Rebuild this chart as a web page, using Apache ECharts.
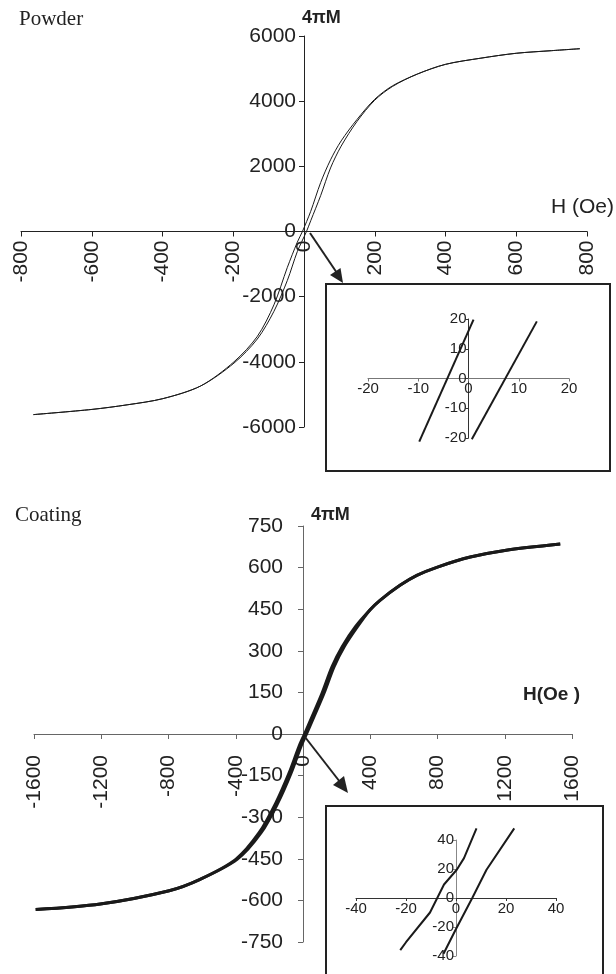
<!DOCTYPE html>
<html>
<head>
<meta charset="utf-8">
<title>Powder / Coating 4πM vs H</title>
<script src="https://cdn.jsdelivr.net/npm/echarts@6.0.0/dist/echarts.min.js"></script>
<style>
  html, body { margin: 0; padding: 0; background: #fff; }
  #chart { width: 616px; height: 974px; }
</style>
</head>
<body>
<div id="chart"></div>
<script>
// ---- tick values ----
var powderHTicks = [-800, -600, -400, -200, 0, 200, 400, 600, 800];
var powderMTicks = [-6000, -4000, -2000, 0, 2000, 4000, 6000];
var coatHTicks = [-1600, -1200, -800, -400, 0, 400, 800, 1200, 1600];
var coatMTicks = [-750, -600, -450, -300, -150, 0, 150, 300, 450, 600, 750];
var powderInsetTicks = [-20, -10, 0, 10, 20];
var coatInsetTicks = [-40, -20, 0, 20, 40];

// ---- powder loop (descending / ascending branch) ----
var powderDescH = [780, 700, 600, 500, 400, 320, 250, 200, 150, 105, 75, 47, 19, -4.5, -19, -47, -85, -132, -198, -292, -399, -500, -599, -765];
var powderDescM = [5610, 5550, 5470, 5320, 5130, 4830, 4470, 4060, 3440, 2780, 2200, 1500, 620, 0, -330, -1100, -2250, -3220, -4000, -4740, -5130, -5320, -5460, -5620];
var powderAscH = [-765, -599, -500, -399, -292, -198, -132, -85, -47, -19, 7, 19, 47, 75, 105, 150, 200, 250, 320, 400, 500, 600, 700, 780];
var powderAscM = [-5620, -5460, -5320, -5130, -4740, -4040, -3300, -2450, -1500, -620, 0, 330, 1100, 1950, 2620, 3380, 4030, 4450, 4830, 5130, 5320, 5470, 5550, 5610];

// ---- coating loop ----
var coatDescH = [1530, 1200, 995, 800, 677, 577, 458, 398, 312, 233, 173, 113, 54, 9, -24, -83, -162, -261, -400, -612, -796, -1206, -1590];
var coatDescM = [685, 662, 638, 602, 572, 536, 482, 447, 387, 315, 243, 147, 63, 0, -45, -141, -249, -356, -452, -524, -565, -613, -633];
var coatAscH = [-1590, -1206, -796, -612, -392, -249, -150, -71, -12, 21, 66, 125, 185, 245, 324, 398, 458, 577, 677, 800, 995, 1200, 1530];
var coatAscM = [-633, -613, -565, -524, -452, -356, -249, -141, -45, 0, 63, 147, 243, 315, 387, 447, 482, 536, 572, 602, 638, 662, 685];

// ---- insets (zoom around origin) ----
var powderInsetDescH = [-9.8, 1];
var powderInsetDescM = [-21.2, 19.8];
var powderInsetAscH = [0.66, 13.6];
var powderInsetAscM = [-20.4, 19.2];
var coatInsetDescH = [-22.3, -20, -10.4, -4.8, 0.3, 3.2, 8.2];
var coatInsetDescM = [-36, -30.5, -10, 9.3, 19.5, 27.5, 48];
var coatInsetAscH = [-5, 0, 6.5, 12.2, 23.3];
var coatInsetAscM = [-38.4, -21.4, 0, 19.5, 48];

var SANS = '"Liberation Sans", Arial, sans-serif';
var SERIF = '"Liberation Serif", "Times New Roman", serif';

// grid boxes: [left, top, width, height]; every range is symmetric, so the
// zero lines sit in the middle and the axes are shifted there with offset
var grids = [
  [21, 36, 566, 391],
  [34, 526, 538, 416],
  [368, 319, 201, 119],
  [356, 840, 200, 116]
];

function pairs(xs, ys) {
  var out = [];
  for (var i = 0; i < xs.length; i++) out.push([xs[i], ys[i]]);
  return out;
}

function valAxis(grid, ticks, isX, opts) {
  var g = grids[grid];
  return {
    type: 'value',
    gridIndex: grid,
    position: isX ? 'bottom' : 'left',
    offset: -(isX ? g[3] : g[2]) / 2,
    min: ticks[0],
    max: ticks[ticks.length - 1],
    interval: ticks[1] - ticks[0],
    splitLine: { show: false },
    axisLine: { show: true, onZero: false, lineStyle: { color: opts.color, width: 1 } },
    axisTick: { show: true, length: opts.tick, lineStyle: { color: opts.color } },
    axisLabel: {
      show: true,
      color: '#222',
      fontFamily: SANS,
      fontSize: opts.fontSize,
      margin: opts.margin,
      rotate: opts.rotate || 0,
      formatter: function (v) { return String(v); }
    }
  };
}

function loop(xi, xs, ys, width, smooth) {
  return {
    type: 'line',
    xAxisIndex: xi,
    yAxisIndex: xi,
    data: pairs(xs, ys),
    showSymbol: false,
    smooth: smooth,
    clip: false,
    lineStyle: { color: '#1a1a1a', width: width },
    silent: true
  };
}

var myChart = echarts.init(document.getElementById('chart'), null, { renderer: 'canvas' });

myChart.setOption({
  animation: false,
  backgroundColor: '#fff',
  grid: grids.map(function (g) {
    return { left: g[0], top: g[1], width: g[2], height: g[3], outerBoundsMode: 'none' };
  }),
  xAxis: [
    valAxis(0, powderHTicks, true, { color: '#222', tick: 5, fontSize: 21, margin: 9, rotate: 90 }),
    valAxis(1, coatHTicks, true, { color: '#666', tick: 5, fontSize: 21, margin: 21, rotate: 90 }),
    valAxis(2, powderInsetTicks, true, { color: '#777', tick: 3, fontSize: 15, margin: 3 }),
    valAxis(3, coatInsetTicks, true, { color: '#333', tick: 3, fontSize: 15, margin: 3 })
  ],
  yAxis: [
    valAxis(0, powderMTicks, false, { color: '#222', tick: 5, fontSize: 21, margin: 8 }),
    valAxis(1, coatMTicks, false, { color: '#666', tick: 5, fontSize: 21, margin: 20 }),
    valAxis(2, powderInsetTicks, false, { color: '#333', tick: 3, fontSize: 15, margin: 2 }),
    valAxis(3, coatInsetTicks, false, { color: '#888', tick: 3, fontSize: 15, margin: 2 })
  ],
  series: [
    loop(0, powderDescH, powderDescM, 1, 0.3),
    loop(0, powderAscH, powderAscM, 1, 0.3),
    loop(1, coatDescH, coatDescM, 3, 0.3),
    loop(1, coatAscH, coatAscM, 3, 0.3),
    loop(2, powderInsetDescH, powderInsetDescM, 2, false),
    loop(2, powderInsetAscH, powderInsetAscM, 2, false),
    loop(3, coatInsetDescH, coatInsetDescM, 2, false),
    loop(3, coatInsetAscH, coatInsetAscM, 2, false)
  ],
  graphic: [
    // panel titles and axis names
    { type: 'text', left: 19, top: 9, style: { text: 'Powder', font: '21px ' + SERIF, fill: '#222' } },
    { type: 'text', left: 15, top: 505, style: { text: 'Coating', font: '21px ' + SERIF, fill: '#222' } },
    { type: 'text', left: 302, top: 9, style: { text: '4πM', font: 'bold 18px ' + SANS, fill: '#222' } },
    { type: 'text', left: 311, top: 506, style: { text: '4πM', font: 'bold 18px ' + SANS, fill: '#222' } },
    { type: 'text', left: 551, top: 197, style: { text: 'H (Oe)', font: '21px ' + SANS, fill: '#222' } },
    { type: 'text', left: 523, top: 685, style: { text: 'H(Oe )', font: 'bold 19px ' + SANS, fill: '#222' } },
    // inset frames
    { type: 'rect', shape: { x: 326, y: 284, width: 284, height: 187 }, style: { fill: 'none', stroke: '#222', lineWidth: 2 }, z: 10 },
    { type: 'rect', shape: { x: 326, y: 806, width: 277, height: 200 }, style: { fill: 'none', stroke: '#222', lineWidth: 2 }, z: 10 },
    // arrows from origin to insets
    { type: 'line', shape: { x1: 310, y1: 233, x2: 337, y2: 273 }, style: { stroke: '#222', lineWidth: 2 }, z: 10 },
    { type: 'polygon', shape: { points: [[343, 283], [330, 275], [340.5, 268]] }, style: { fill: '#222' }, z: 10 },
    { type: 'line', shape: { x1: 305, y1: 737, x2: 340, y2: 782 }, style: { stroke: '#222', lineWidth: 2 }, z: 10 },
    { type: 'polygon', shape: { points: [[348, 793], [333, 785], [344, 776]] }, style: { fill: '#222' }, z: 10 }
  ]
});
</script>
</body>
</html>
